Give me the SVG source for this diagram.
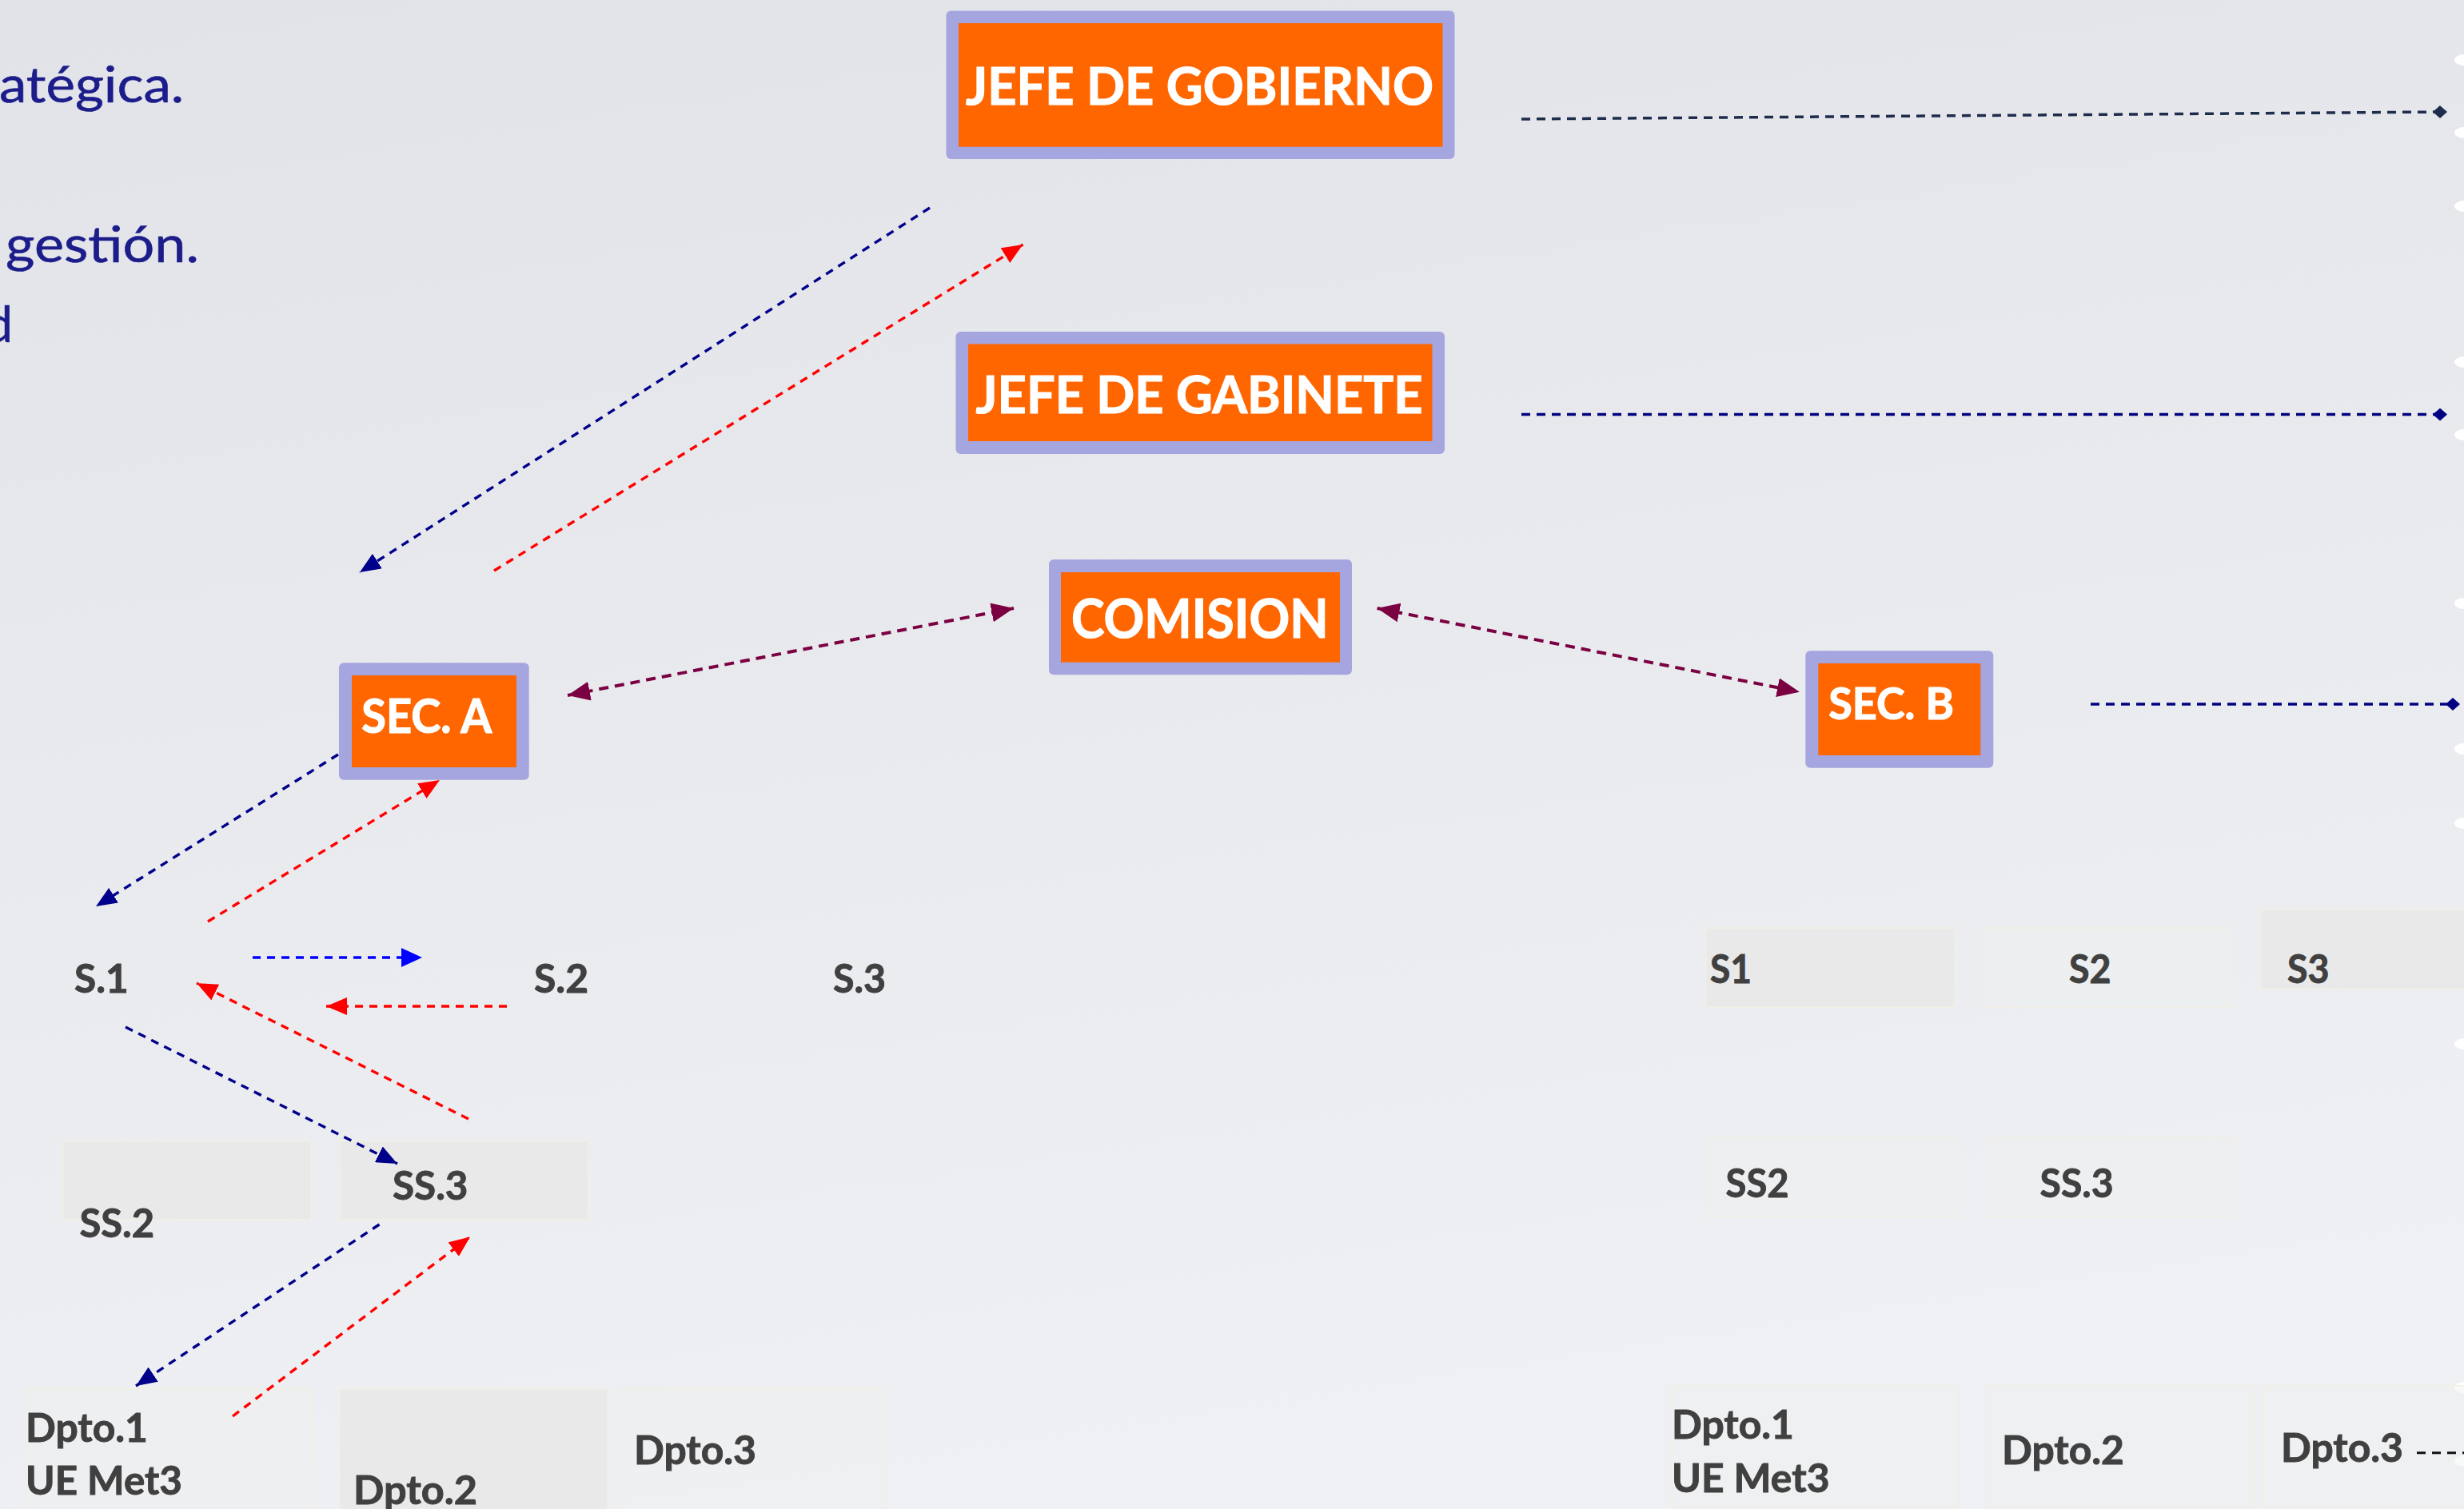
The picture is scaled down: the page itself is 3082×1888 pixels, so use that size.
<svg xmlns="http://www.w3.org/2000/svg" width="3082" height="1888" viewBox="0 0 3082 1888">
  <defs>
    <linearGradient id="bg" x1="0" y1="0" x2="0.25" y2="1">
      <stop offset="0" stop-color="#e1e3e8"/>
      <stop offset="1" stop-color="#eff0f3"/>
    </linearGradient>
    <marker id="aNavy" markerUnits="userSpaceOnUse" viewBox="0 0 26 22" refX="26" refY="11" markerWidth="26" markerHeight="22" orient="auto">
      <path d="M0,0 L26,11 L0,22 z" fill="#00008b"/>
    </marker>
    <marker id="aRed" markerUnits="userSpaceOnUse" viewBox="0 0 26 22" refX="26" refY="11" markerWidth="26" markerHeight="22" orient="auto">
      <path d="M0,0 L26,11 L0,22 z" fill="#ff0000"/>
    </marker>
    <marker id="aBlue" markerUnits="userSpaceOnUse" viewBox="0 0 26 24" refX="26" refY="12" markerWidth="26" markerHeight="24" orient="auto">
      <path d="M0,0 L26,12 L0,24 z" fill="#0000ff"/>
    </marker>
    <marker id="aMaroon" markerUnits="userSpaceOnUse" viewBox="0 0 28 24" refX="28" refY="12" markerWidth="28" markerHeight="24" orient="auto-start-reverse">
      <path d="M0,0 L28,12 L0,24 z" fill="#7b0041"/>
    </marker>
    <marker id="dSlate" markerUnits="userSpaceOnUse" viewBox="0 0 18 16" refX="9" refY="8" markerWidth="18" markerHeight="16" orient="auto">
      <path d="M0,8 L9,0 L18,8 L9,16 z" fill="#1f2d4d"/>
    </marker>
    <marker id="dNavy" markerUnits="userSpaceOnUse" viewBox="0 0 18 16" refX="9" refY="8" markerWidth="18" markerHeight="16" orient="auto">
      <path d="M0,8 L9,0 L18,8 L9,16 z" fill="#000080"/>
    </marker>
    <style>
      .outer { fill: #a5a5df; }
      .inner { fill: #ff6600; }
      .lbl { font-family: Lato, "Noto Sans", "DejaVu Sans", sans-serif; font-weight: 700; fill: #ffffff; stroke: #ffffff; stroke-width: 1.2; }
      .gl { font-family: Lato, "Noto Sans", "DejaVu Sans", sans-serif; font-weight: 700; fill: #404040; stroke: #404040; stroke-width: 0.9; font-size: 49px; }
      .frag { font-family: Lato, "Noto Sans", "DejaVu Sans", sans-serif; font-weight: 400; fill: #1c1c8a; stroke: #1c1c8a; stroke-width: 0.6; font-size: 62px; }
      .gbox { fill: #e9e9e9; stroke: #f1efe3; stroke-width: 1.5; }
      .fbox { fill: #eeeff1; fill-opacity: 0.4; stroke: #f1efe3; stroke-width: 1.5; }
      .dash { fill: none; stroke-width: 3.4; stroke-dasharray: 10 8; }
      .navy { stroke: #00008b; }
      .red { stroke: #ff0000; }
      .blue { stroke: #0000ff; }
      .maroon { stroke: #7b0041; stroke-width: 4; stroke-dasharray: 12 8; }
      .dot { fill: #ffffff; }
    </style>
  </defs>

  <rect x="0" y="0" width="3082" height="1888" fill="url(#bg)"/>

  <!-- cut-off text fragments at left -->
  <g id="fragments">
    <text class="frag" x="-1" y="128" textLength="231" lengthAdjust="spacingAndGlyphs">atégica.</text>
    <text class="frag" x="7" y="328" textLength="242" lengthAdjust="spacingAndGlyphs">gestión.</text>
    <text class="frag" x="16" y="428" text-anchor="end">d</text>
  </g>

  <!-- white bullet dots at right edge -->
  <g id="edge-dots">
    <ellipse class="dot" cx="3083" cy="75" rx="13" ry="7"/>
    <ellipse class="dot" cx="3083" cy="166" rx="13" ry="7"/>
    <ellipse class="dot" cx="3083" cy="258" rx="13" ry="7"/>
    <ellipse class="dot" cx="3083" cy="453" rx="13" ry="7"/>
    <ellipse class="dot" cx="3083" cy="544" rx="13" ry="7"/>
    <ellipse class="dot" cx="3083" cy="755" rx="13" ry="7"/>
    <ellipse class="dot" cx="3083" cy="937" rx="13" ry="7"/>
    <ellipse class="dot" cx="3083" cy="1030" rx="13" ry="7"/>
    <ellipse class="dot" cx="3083" cy="1306" rx="13" ry="7"/>
    <ellipse class="dot" cx="3083" cy="1736" rx="13" ry="7"/>
    <ellipse class="dot" cx="3083" cy="1828" rx="13" ry="7"/>
  </g>

  <!-- gray sub-unit boxes -->
  <g id="ss2-left"><rect class="gbox" x="79" y="1428" width="310" height="98"/><text class="gl" x="99.5" y="1548" textLength="93.5" lengthAdjust="spacingAndGlyphs">SS.2</text></g>
  <g id="ss3-left"><rect class="gbox" x="425" y="1428" width="311" height="98"/><text class="gl" x="491" y="1501" textLength="94.5" lengthAdjust="spacingAndGlyphs">SS.3</text></g>
  <g id="dpto1-left"><rect class="fbox" x="32" y="1738" width="357" height="160"/><text class="gl" x="32" y="1804" textLength="153" lengthAdjust="spacingAndGlyphs">Dpto.1</text><text class="gl" x="32" y="1870" textLength="196" lengthAdjust="spacingAndGlyphs">UE Met3</text></g>
  <g id="dpto2-left"><rect class="gbox" x="425" y="1738" width="335" height="160"/><text class="gl" x="442" y="1882" textLength="155" lengthAdjust="spacingAndGlyphs">Dpto.2</text></g>
  <g id="dpto3-left"><rect class="fbox" x="771" y="1738" width="333" height="160"/><text class="gl" x="793" y="1832" textLength="153" lengthAdjust="spacingAndGlyphs">Dpto.3</text></g>

  <g id="s1-left"><text class="gl" x="93" y="1241.5" textLength="67.7" lengthAdjust="spacingAndGlyphs">S.1</text></g>
  <g id="s2-left"><text class="gl" x="668" y="1241.5" textLength="68" lengthAdjust="spacingAndGlyphs">S.2</text></g>
  <g id="s3-left"><text class="gl" x="1042" y="1241.5" textLength="66" lengthAdjust="spacingAndGlyphs">S.3</text></g>

  <g id="s1-right"><rect class="gbox" x="2134" y="1161" width="311" height="99"/><text class="gl" x="2139" y="1229.5" textLength="52" lengthAdjust="spacingAndGlyphs">S1</text></g>
  <g id="s2-right"><rect class="fbox" x="2481" y="1161" width="310" height="99"/><text class="gl" x="2588" y="1229.5" textLength="52.5" lengthAdjust="spacingAndGlyphs">S2</text></g>
  <g id="s3-right"><rect class="gbox" x="2828" y="1138" width="260" height="99"/><text class="gl" x="2861" y="1229.5" textLength="52.5" lengthAdjust="spacingAndGlyphs">S3</text></g>
  <g id="ss2-right"><rect class="fbox" x="2139" y="1424" width="311" height="98"/><text class="gl" x="2158.6" y="1497.6" textLength="79" lengthAdjust="spacingAndGlyphs">SS2</text></g>
  <g id="ss3-right"><rect class="fbox" x="2486.5" y="1424" width="307.5" height="98"/><text class="gl" x="2551.6" y="1497.6" textLength="92" lengthAdjust="spacingAndGlyphs">SS.3</text></g>
  <g id="dpto1-right"><rect class="fbox" x="2091" y="1734" width="358.6" height="151"/><text class="gl" x="2091" y="1799.5" textLength="153" lengthAdjust="spacingAndGlyphs">Dpto.1</text><text class="gl" x="2091" y="1866.5" textLength="197.5" lengthAdjust="spacingAndGlyphs">UE Met3</text></g>
  <g id="dpto2-right"><rect class="fbox" x="2486.5" y="1734" width="332.5" height="151"/><text class="gl" x="2504" y="1832" textLength="153" lengthAdjust="spacingAndGlyphs">Dpto.2</text></g>
  <g id="dpto3-right"><rect class="fbox" x="2831" y="1734" width="260" height="151"/><text class="gl" x="2853" y="1828.7" textLength="153" lengthAdjust="spacingAndGlyphs">Dpto.3</text></g>

  <!-- connectors -->
  <g id="connectors">
    <line x1="1903" y1="149" x2="3052" y2="140" fill="none" stroke="#1f2d4d" stroke-width="3.5" stroke-dasharray="11 8" marker-end="url(#dSlate)"/>
    <line x1="1903" y1="518.6" x2="3052" y2="518.6" fill="none" stroke="#000080" stroke-width="3.5" stroke-dasharray="11 8" marker-end="url(#dNavy)"/>
    <line x1="2615" y1="881" x2="3068" y2="881" fill="none" stroke="#000080" stroke-width="3.5" stroke-dasharray="11 8" marker-end="url(#dNavy)"/>
    <line x1="3023" y1="1817.7" x2="3082" y2="1817.7" fill="none" stroke="#111111" stroke-width="3" stroke-dasharray="11 8"/>

    <line class="dash navy" x1="1163" y1="260" x2="450" y2="716" marker-end="url(#aNavy)"/>
    <line class="dash red" x1="618" y1="714" x2="1279.5" y2="306" marker-end="url(#aRed)"/>
    <line class="dash maroon" x1="710" y1="870" x2="1268" y2="761" marker-start="url(#aMaroon)" marker-end="url(#aMaroon)"/>
    <line class="dash maroon" x1="1722.6" y1="761" x2="2250.9" y2="865.7" marker-start="url(#aMaroon)" marker-end="url(#aMaroon)"/>
    <line class="dash navy" x1="423" y1="944" x2="120" y2="1134" marker-end="url(#aNavy)"/>
    <line class="dash red" x1="260" y1="1153" x2="550" y2="976" marker-end="url(#aRed)"/>
    <line class="dash blue" x1="316" y1="1198" x2="528" y2="1198" marker-end="url(#aBlue)"/>
    <line class="dash red" x1="634" y1="1259" x2="408" y2="1259" marker-end="url(#aRed)"/>
    <line class="dash red" x1="586" y1="1400" x2="246" y2="1230" marker-end="url(#aRed)"/>
    <line class="dash navy" x1="157" y1="1285" x2="497" y2="1456" marker-end="url(#aNavy)"/>
    <line class="dash navy" x1="474.5" y1="1532" x2="170" y2="1734" marker-end="url(#aNavy)"/>
    <line class="dash red" x1="291" y1="1772" x2="588" y2="1547.5" marker-end="url(#aRed)"/>
  </g>

  <!-- orange nodes -->
  <g id="jefe-gobierno">
    <rect class="outer" x="1183.5" y="13.5" width="636" height="185.5" rx="6"/>
    <rect class="inner" x="1199" y="29" width="605.5" height="154.7"/>
    <text class="lbl" x="1208" y="131" font-size="65" textLength="585" lengthAdjust="spacingAndGlyphs">JEFE DE GOBIERNO</text>
  </g>
  <g id="jefe-gabinete">
    <rect class="outer" x="1195.5" y="415" width="611.5" height="153" rx="6"/>
    <rect class="inner" x="1211" y="430.5" width="580.5" height="121.5"/>
    <text class="lbl" x="1220.5" y="516.6" font-size="65" textLength="559" lengthAdjust="spacingAndGlyphs">JEFE DE GABINETE</text>
  </g>
  <g id="comision">
    <rect class="outer" x="1312" y="700" width="379" height="144.3" rx="6"/>
    <rect class="inner" x="1327" y="716" width="349" height="112.7"/>
    <text class="lbl" x="1340" y="797.7" font-size="66" textLength="321.6" lengthAdjust="spacingAndGlyphs">COMISION</text>
  </g>
  <g id="sec-a">
    <rect class="outer" x="424" y="829.3" width="237.7" height="146.4" rx="6"/>
    <rect class="inner" x="440" y="845" width="206" height="115"/>
    <text class="lbl" x="452.3" y="916.7" font-size="59" textLength="162.7" lengthAdjust="spacingAndGlyphs">SEC. A</text>
  </g>
  <g id="sec-b">
    <rect class="outer" x="2258.3" y="814.3" width="235" height="146.4" rx="6"/>
    <rect class="inner" x="2274.3" y="830" width="203" height="115"/>
    <text class="lbl" x="2287.3" y="900" font-size="56" textLength="156.7" lengthAdjust="spacingAndGlyphs">SEC. B</text>
  </g>
</svg>
